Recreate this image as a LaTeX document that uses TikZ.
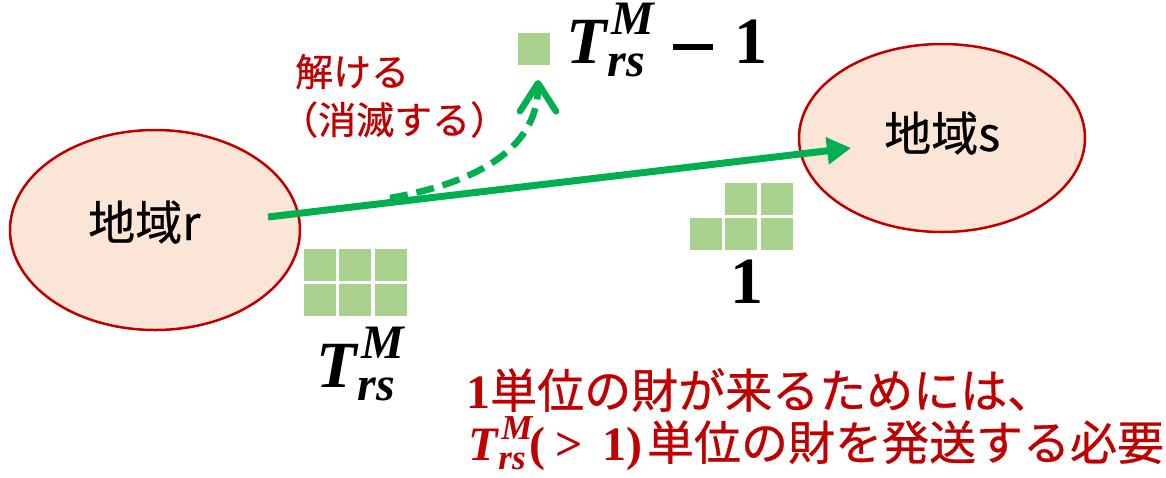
\documentclass[tikz,border=0pt]{standalone}
\usepackage{fontspec}
\newfontfamily\jp{Noto Sans CJK JP}[FakeBold=0.6]
\newfontfamily\mth{Liberation Serif}
\usetikzlibrary{arrows.meta,shapes.geometric}
\definecolor{grn}{HTML}{00B050}
\definecolor{lgrn}{HTML}{A9D18E}
\definecolor{peach}{HTML}{FBE5D6}
\definecolor{dred}{HTML}{C00000}
% T^M_rs built from text glyphs: #1 main size, #2 script size
\newcommand\TMrs[2]{{\mth\bfseries\itshape\fontsize{#1}{#1}\selectfont T\kern0.02em\fontsize{#2}{#2}\selectfont\rlap{\kern0.08em\raisebox{0.6em}{M}}\raisebox{-0.28em}{rs}\kern0.12em}}
\newcommand\bnum[2]{{\mth\bfseries\fontsize{#1}{#1}\selectfont #2}}
\tikzset{
  region/.style={ellipse,draw=dred,line width=2.5pt,fill=peach,inner sep=0pt},
  lbl/.style={font=\jp\fontsize{47}{54}\selectfont,inner sep=0pt,anchor=base west},
  redlbl/.style={font=\jp\fontsize{38}{44}\selectfont,text=dred,inner sep=0pt,anchor=base west},
  note/.style={font=\jp\fontsize{47}{54}\selectfont,text=dred,inner sep=0pt,anchor=base west},
  bigmath/.style={inner sep=0pt},
  sq/.style={fill=lgrn},
  flow/.style={draw=grn,line width=7pt,-{Triangle[length=24pt,width=26pt]}},
  vanish/.style={draw=grn,line width=6.5pt,dash pattern=on 18pt off 9pt,
    -{Straight Barb[length=28pt,width=36pt,line cap=round,round]}}
}
\begin{document}
\begin{tikzpicture}[x=1pt,y=-1pt]
\useasboundingbox (0,0) rectangle (1166,477);
% regions
\node[region,minimum width=290pt,minimum height=200pt] (r) at (155,230) {};
\node[region,minimum width=286pt,minimum height=188pt] (s) at (942,138) {};
\node[lbl] (rl) at (88,240) {地域r};
\node[lbl] (sl) at (884,151) {地域s};
% main flow arrow
\coordinate (a0) at (268,217);
\coordinate (a1) at (851,148);
\draw[flow] (a0) -- (a1);
% vanishing arrow
\coordinate (d0) at (390,198);
\coordinate (d1) at (538,80);
\draw[vanish] (d0) .. controls (470,184) and (538,152) .. (d1);
% squares: single
\fill[sq] (518,33) rectangle +(32,32);
% squares: left grid
\foreach \i in {304,339,375}{
  \foreach \j in {249,284}{
    \fill[sq] (\i,\j) rectangle +(32,32);
  }
}
% squares: right grid
\foreach \i/\j in {725/183,761/183,690/218,725/218,761/218}{
  \fill[sq] (\i,\j) rectangle +(32,32);
}
% math labels
\node[bigmath,anchor=base west] (tm1) at (566,63) {\TMrs{66}{48}\hspace{22pt}\rule[13pt]{40pt}{6.5pt}\hspace{22pt}\bnum{66}{1}};
\node[bigmath,anchor=base west] (tm) at (316,387) {\TMrs{66}{48}};
\node[bigmath,anchor=base] (one) at (747,303) {\bnum{66}{1}};
% red labels
\node[redlbl] (v1) at (295,86) {解ける};
\node[redlbl] (v2) at (280,134) {（消滅する）};
\node[note] (n1) at (466,408) {\bnum{48}{1}単位の財が来るためには、};
\node[note] (n2) at (468,460) {\TMrs{48}{35}\bnum{48}{(\kern0.2em>\kern0.4em1)}\kern5pt 単位の財を発送する必要};
\end{tikzpicture}
\end{document}
